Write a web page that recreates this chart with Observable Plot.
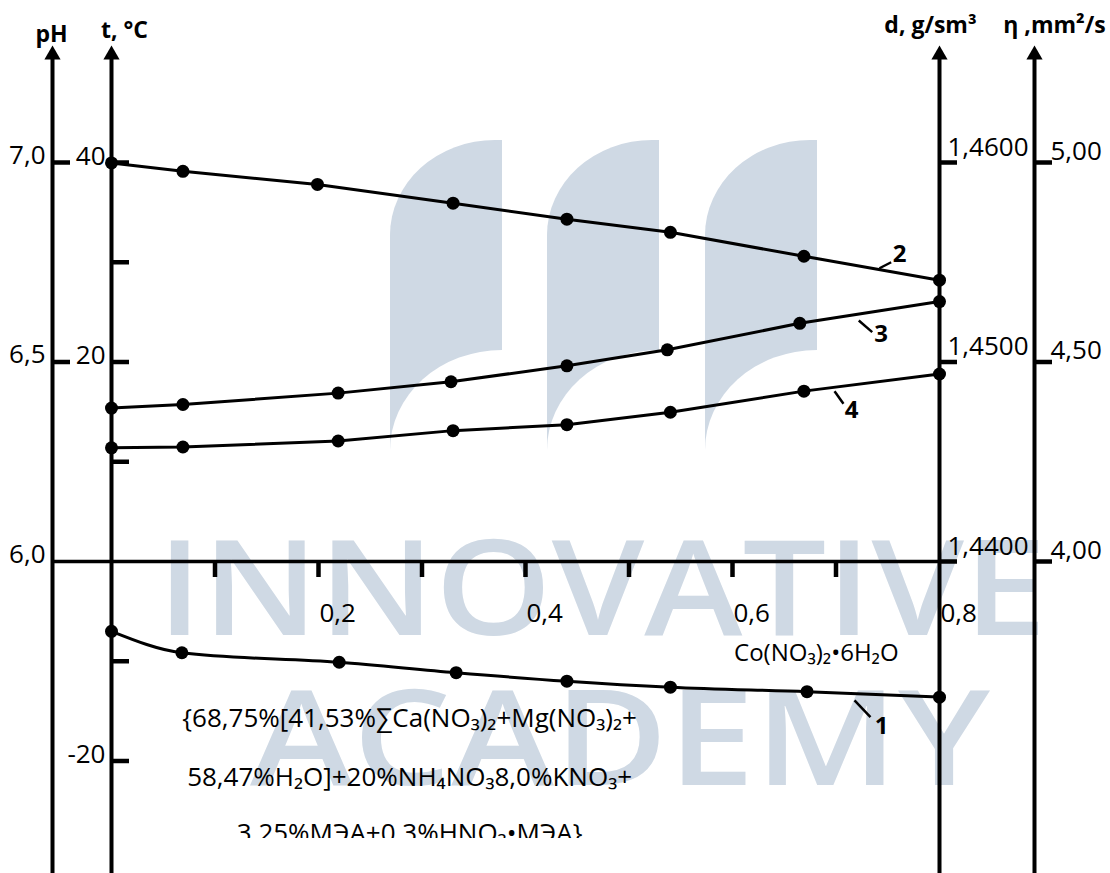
<!DOCTYPE html>
<html>
<head>
<meta charset="utf-8">
<script src="https://cdn.jsdelivr.net/npm/d3@7"></script>
<script src="https://cdn.jsdelivr.net/npm/@observablehq/plot@0.6"></script>
<style>
html, body { margin: 0; padding: 0; background: #fff; }
#wrap { position: relative; width: 1110px; height: 873px; overflow: hidden; font-family: "Open Sans", sans-serif; }
.wm-shape { position: absolute; top: 140px; width: 112px; height: 320px; background: #cfd9e4; border-top-left-radius: 105px 95px; }
.wm-cut { position: absolute; top: 350px; width: 114px; height: 120px; background: #fff; border-top-left-radius: 112px 100px; }
#wm-text { position: absolute; left: 0; top: 0; }
#chart { position: absolute; left: 0; top: 0; }
</style>
</head>
<body>
<div id="wrap">
  <div class="wm-shape" style="left:390px"></div>
  <div class="wm-shape" style="left:547px"></div>
  <div class="wm-shape" style="left:705px"></div>
  <div class="wm-cut" style="left:390px"></div>
  <div class="wm-cut" style="left:547px"></div>
  <div class="wm-cut" style="left:705px"></div>
  <svg id="wm-text" width="1110" height="873">
    <text x="157" y="635" textLength="890" lengthAdjust="spacingAndGlyphs" font-family="Open Sans" font-weight="600" font-size="133" fill="#cfd9e4">INNOVATIVE</text>
    <text x="250" y="785" textLength="740" lengthAdjust="spacingAndGlyphs" font-family="Open Sans" font-weight="600" font-size="133" fill="#cfd9e4">ACADEMY</text>
  </svg>
  <div id="chart"></div>
</div>
<script>
// ---------------- DATA ----------------
// x: mass fraction of Co(NO3)2·6H2O
const xCurve1 = [0, 0.068, 0.22, 0.333, 0.44, 0.54, 0.672, 0.8];
const tCurve1 = [-7.0, -9.15, -10.1, -11.15, -12.0, -12.6, -13.05, -13.6];      // t, °C
const xCurve2 = [0, 0.069, 0.199, 0.33, 0.44, 0.54, 0.669, 0.8];
const pHCurve2 = [6.999, 6.978, 6.945, 6.898, 6.858, 6.825, 6.765, 6.705];     // pH
const xCurve3 = [0, 0.069, 0.219, 0.328, 0.44, 0.537, 0.665, 0.8];
const dCurve3 = [1.44769, 1.44787, 1.44844, 1.44901, 1.44981, 1.45061, 1.45194, 1.45303]; // d, g/sm3
const xCurve4 = [0, 0.069, 0.219, 0.33, 0.44, 0.54, 0.669, 0.8];
const etaCurve4 = [4.285, 4.287, 4.302, 4.328, 4.343, 4.374, 4.427, 4.470];   // η, mm2/s

const xTicks = [0.1, 0.2, 0.3, 0.4, 0.5, 0.6, 0.7];
const xTickLabels = [0.2, 0.4, 0.6, 0.8];
const pHTicks = [6.0, 6.5, 7.0];
const tTicks = [-20, -10, 10, 20, 30, 40];
const tTickLabels = [-20, 20, 40];
const dTicks = [1.44, 1.45, 1.46];
const etaTicks = [4.0, 4.5, 5.0];

const axisTitles = ["pH", "t, °C", "d, g/sm³", "η ,mm²/s"];

const curveNames = ["1", "2", "3", "4"];
const curveNameX = [0.744, 0.7614, 0.7435, 0.715];
const curveNameT = [-16.54, 30.78, 22.76, 15.14];
const leaderX1 = [0.7179, 0.742, 0.7220, 0.6986];
const leaderT1 = [-13.93, 29.40, 24.16, 17.07];
const leaderX2 = [0.7333, 0.7533, 0.7350, 0.7072];
const leaderT2 = [-15.61, 30.0, 22.99, 15.81];

const saltLabel = "Co(NO₃)₂•6H₂O";
const compositionLines = [
  "{68,75%[41,53%∑Ca(NO₃)₂+Mg(NO₃)₂+",
  "58,47%H₂O]+20%NH₄NO₃8,0%KNO₃+",
  "3,25%МЭА+0,3%HNO₃•МЭА}"
];
const compositionT = [-15.74, -21.65, -27.27];

// ---------------- LAYOUT ----------------
const W = 1110, H = 873, mL = 111, mR = 171, mT = 45, mB = 35;
const xDomain = [0, 0.8];
const yDomain = [-27.77, 51.73];           // in °C (the common vertical scale)
const kx = (W - mL - mR) / (xDomain[1] - xDomain[0]);
const ky = (H - mT - mB) / (yDomain[1] - yDomain[0]);

// conversions of each quantity to the common vertical scale
const fromPH = v => (v - 6) * 40;
const fromD = v => (v - 1.44) * 2000;
const fromEta = v => (v - 4) * 40;

// positions of the four vertical axes (x units)
const axisPos = { pH: -59 / kx, t: 0, d: 0.8, eta: 923 / kx };
const axisKeys = ["pH", "t", "d", "eta"];
const titleX = [-60 / kx, 13 / kx, 819 / kx, 943 / kx];
const titleT = [(561 - 34) / ky, (561 - 30) / ky, (561 - 25) / ky, (561 - 25) / ky];

const tickLen = 18 / kx;
const arrowCenter = yDomain[1] - 9.3 / ky;
const axisBottom = yDomain[0] - 40 / ky;
const fmt = (f) => (v) => d3.format(f)(v).replace(".", ",").replace("−", "-");

const series = (xs, ys, conv, id) => xs.map((x, i) => ({ x, y: conv(ys[i]), id }));
const s1 = series(xCurve1, tCurve1, v => v, 1);
const s2 = series(xCurve2, pHCurve2, fromPH, 2);
const s3 = series(xCurve3, dCurve3, fromD, 3);
const s4 = series(xCurve4, etaCurve4, fromEta, 4);

const tickMarks = (vals, conv, key) => Plot.ruleY(vals, {
  y: d => conv(d), x1: () => axisPos[key], x2: () => axisPos[key] + tickLen, stroke: "#000", strokeWidth: 4.5
});
const tickText = (vals, conv, key, f, opts) => Plot.text(vals, {
  y: d => conv(d), x: () => axisPos[key], text: d => fmt(f)(d), fontSize: 26, fill: "#000", ...opts
});

const chart = Plot.plot({
  width: W, height: H,
  marginLeft: mL, marginRight: mR, marginTop: mT, marginBottom: mB,
  x: { domain: xDomain, axis: null },
  y: { domain: yDomain, axis: null },
  style: { background: "transparent", fontFamily: "'Open Sans', sans-serif", overflow: "visible" },
  marks: [
    // horizontal axis line
    Plot.ruleY([0], { x1: axisPos.pH, x2: axisPos.d, stroke: "#000", strokeWidth: 3.5 }),
    // x ticks (downward)
    Plot.ruleX(xTicks, { x: d => d, y1: 0, y2: -16 / ky, stroke: "#000", strokeWidth: 4.5 }),
    Plot.text(xTickLabels, { x: d => d, y: 0, dy: 52, dx: 1, text: d => fmt(".1f")(d), textAnchor: "start", fontSize: 26, fill: "#000" }),
    // vertical axes
    Plot.ruleX(axisKeys, { x: k => axisPos[k], y1: axisBottom, y2: arrowCenter, stroke: "#000", strokeWidth: 4 }),
    Plot.dot(axisKeys, { x: k => axisPos[k], y: arrowCenter, symbol: "triangle", r: 6, fill: "#000", stroke: "none" }),
    Plot.text(axisTitles, { x: (d, i) => titleX[i], y: (d, i) => titleT[i], text: d => d, fontSize: 23, fontWeight: "bold", fill: "#000" }),
    // axis ticks
    tickMarks(pHTicks.filter(v => v !== 6.0), fromPH, "pH"),
    tickMarks(tTicks, v => v, "t"),
    tickMarks(dTicks, fromD, "d"),
    tickMarks(etaTicks, fromEta, "eta"),
    tickText(pHTicks, fromPH, "pH", ".1f", { textAnchor: "end", dx: -7, dy: -7 }),
    tickText(tTickLabels, v => v, "t", ".0f", { textAnchor: "end", dx: -6, dy: -6 }),
    tickText(dTicks, fromD, "d", ".4f", { textAnchor: "start", dx: 8, dy: -15 }),
    tickText(etaTicks, fromEta, "eta", ".2f", { textAnchor: "start", dx: 16, dy: -11 }),
    // curves
    Plot.line(s1, { x: "x", y: "y", stroke: "#000", strokeWidth: 3, curve: "monotone-x" }),
    Plot.line([...s2, ...s3, ...s4], { x: "x", y: "y", z: "id", stroke: "#000", strokeWidth: 3 }),
    Plot.dot([...s1, ...s2, ...s3, ...s4], { x: "x", y: "y", r: 6.5, fill: "#000", stroke: "none" }),
    // curve number labels
    Plot.link(curveNames, {
      x1: (d, i) => leaderX1[i], y1: (d, i) => leaderT1[i],
      x2: (d, i) => leaderX2[i], y2: (d, i) => leaderT2[i],
      stroke: "#000", strokeWidth: 2.5
    }),
    Plot.text(curveNames, { x: (d, i) => curveNameX[i], y: (d, i) => curveNameT[i], text: d => d, fontSize: 24, fontWeight: "bold", fill: "#000" }),
    // annotations
    Plot.text([saltLabel], { x: 0.681, y: -9.22, text: d => d, fontSize: 24, fill: "#000" }),
    Plot.text(compositionLines, {
      x: 0.288, y: (d, i) => compositionT[i], text: d => d,
      fontSize: 26, fill: "#000", clip: true
    })
  ]
});
document.getElementById("chart").appendChild(chart);
</script>
</body>
</html>
